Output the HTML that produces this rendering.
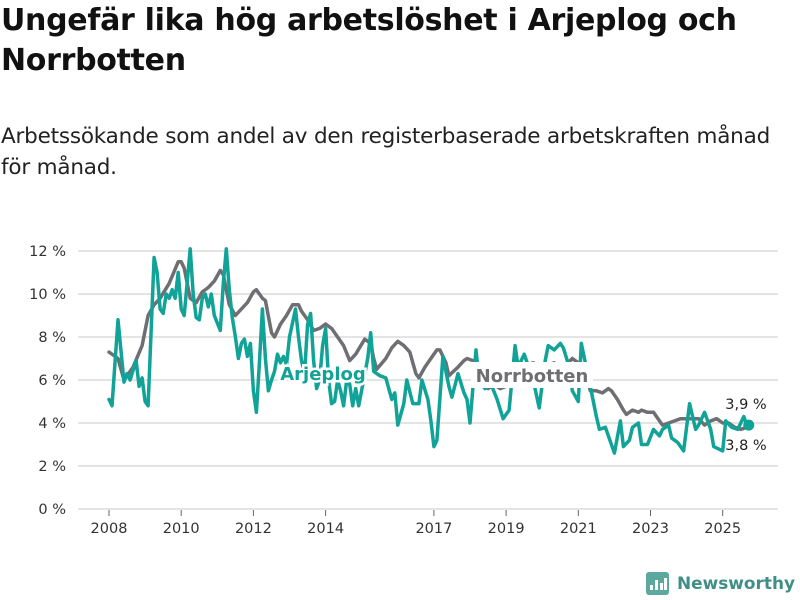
<!DOCTYPE html>
<html><head><meta charset="utf-8">
<style>
body{margin:0;width:800px;height:600px;background:#fff;font-family:"DejaVu Sans",sans-serif;overflow:hidden;position:relative}
h1{position:absolute;left:1px;top:1px;margin:0;font-size:30px;line-height:40px;font-weight:bold;color:#111;white-space:nowrap;letter-spacing:-0.3px}
p.sub{position:absolute;left:1px;top:121px;margin:0;font-size:21.5px;line-height:31px;color:#222;white-space:nowrap;letter-spacing:-0.2px}
svg{position:absolute;left:0;top:0}
</style></head><body>
<h1>Ungefär lika hög arbetslöshet i Arjeplog och<br>Norrbotten</h1>
<p class="sub">Arbetssökande som andel av den registerbaserade arbetskraften månad<br>för månad.</p>
<svg id="chart" width="800" height="600"></svg>
<script>
const yTicks=[0,2,4,6,8,10,12];
const xTickYears=[2008,2010,2012,2014,2017,2019,2021,2023,2025];
const arjMonths=[0,1,3,5,6,7,9,10,11,12,13,15,16,17,18,19,20,21,22,23,24,25,27,28,29,30,31,32,33,34,35,37,38,39,40,41,42,43,44,45,46,47,48,49,50,51,52,53,54,55,56,57,58,59,60,62,63,64,65,66,67,68,69,70,71,72,73,74,75,76,77,78,79,80,81,82,83,86,87,88,90,92,94,95,96,98,99,101,103,104,106,107,108,109,111,113,114,116,118,119,120,122,123,125,127,129,131,133,135,136,138,139,141,143,145,146,148,150,151,153,154,156,157,160,162,163,165,166,168,170,171,173,174,176,177,179,181,183,184,186,187,189,191,193,195,196,198,200,201,204,205,207,209,211,212];
const arjValues=[5.1,4.8,8.8,5.9,6.3,6.0,6.9,5.7,6.1,5.0,4.8,11.7,11.0,9.3,9.1,10.0,9.8,10.2,9.8,11.0,9.3,9.0,12.1,10.0,8.9,8.8,9.8,10.0,9.4,10.0,9.0,8.3,10.5,12.1,10.2,8.9,8.0,7.0,7.7,7.9,7.1,7.7,5.5,4.5,6.8,9.3,7.0,5.5,6.0,6.4,7.2,6.8,7.1,6.7,8.0,9.3,8.0,6.9,6.3,8.6,9.1,6.9,5.6,6.0,7.6,8.4,6.0,4.9,5.0,6.0,5.5,4.8,6.0,5.8,4.8,5.6,4.8,7.0,8.2,6.4,6.2,6.1,5.1,5.4,3.9,4.9,6.0,4.9,4.9,6.0,5.1,4.1,2.9,3.2,7.1,5.7,5.2,6.3,5.4,5.1,4.0,7.4,6.0,5.6,5.8,5.1,4.2,4.6,7.6,6.6,7.2,6.8,6.0,4.7,6.9,7.6,7.4,7.7,7.5,6.6,5.5,5.0,7.7,5.7,4.3,3.7,3.8,3.4,2.6,4.1,2.9,3.2,3.8,4.0,3.0,3.0,3.7,3.4,3.7,3.9,3.3,3.1,2.7,4.9,3.7,3.9,4.5,3.7,2.9,2.7,4.1,3.8,3.7,4.3,3.9];
const norMonths=[0,3,5,8,11,13,15,17,20,23,24,25,27,29,31,33,35,37,38,40,42,44,46,48,49,51,52,54,55,57,59,61,63,64,66,68,70,72,74,76,78,80,82,85,87,88,89,92,94,96,98,100,102,103,105,107,109,110,112,113,116,118,119,121,122,124,126,128,130,132,134,137,139,141,144,146,148,150,152,154,156,158,160,162,164,166,167,169,171,172,174,176,177,179,181,183,184,186,188,190,192,196,198,200,202,204,206,208,210,212];
const norValues=[7.3,7.0,6.0,6.6,7.6,9.0,9.5,9.8,10.5,11.5,11.5,11.2,9.8,9.6,10.1,10.3,10.6,11.1,10.9,9.5,9.0,9.3,9.6,10.1,10.2,9.8,9.7,8.2,8.0,8.6,9.0,9.5,9.5,9.2,8.8,8.3,8.4,8.6,8.4,8.0,7.6,6.9,7.2,7.9,7.7,7.0,6.5,7.0,7.5,7.8,7.6,7.3,6.3,6.1,6.6,7.0,7.4,7.4,6.8,6.2,6.6,6.9,7.0,6.9,6.8,5.8,5.6,5.8,5.6,5.7,6.0,6.3,6.7,6.8,6.6,6.7,6.8,6.6,6.7,7.0,6.8,6.6,5.5,5.5,5.4,5.6,5.5,5.1,4.6,4.4,4.6,4.5,4.6,4.5,4.5,4.1,3.9,4.0,4.1,4.2,4.2,4.2,3.9,4.1,4.2,4.0,4.0,3.8,3.7,3.8];
const lastArjLabel="3,9 %", lastNorLabel="3,8 %";

const NS="http://www.w3.org/2000/svg";
const svg=document.getElementById('chart');
const x0=109, pxPerYear=36.1, y0=509, pxPerPct=21.5;
function xScale(months){return x0+months/12*pxPerYear;}
function xYear(yr){return x0+(yr-2008)*pxPerYear;}
function yScale(v){return y0-v*pxPerPct;}
function mk(tag,attrs,parent){const e=document.createElementNS(NS,tag);for(const k in attrs)e.setAttribute(k,attrs[k]);(parent||svg).appendChild(e);return e;}

yTicks.forEach(t=>{
  const g=mk('line',{x1:78,x2:778,y1:yScale(t),y2:yScale(t),stroke:'#dcdcdc','stroke-width':1.5});
  
  
  const tx=mk('text',{x:66,y:yScale(t)+5,'text-anchor':'end','font-size':14.5,fill:'#333','font-family':'DejaVu Sans, sans-serif'});
  tx.textContent=t+' %';
  
  
});
xTickYears.forEach(yr=>{
  const tk=mk('line',{x1:xYear(yr),x2:xYear(yr),y1:510,y2:516,stroke:'#666','stroke-width':1});
  
  
  const tx=mk('text',{x:xYear(yr),y:533,'text-anchor':'middle','font-size':14.5,fill:'#333','font-family':'DejaVu Sans, sans-serif'});
  tx.textContent=yr;
  
  
});
function path(ms,vs,color,name){
  let d='';ms.forEach((m,i)=>{d+=(i?'L':'M')+xScale(m).toFixed(1)+','+yScale(vs[i]).toFixed(1);});
  const p=mk('path',{d:d,fill:'none',stroke:color,'stroke-width':3.5,'stroke-linejoin':'round','stroke-linecap':'round'});
  
  
}
path(norMonths,norValues,'#6f6e73','norrbotten-line');
path(arjMonths,arjValues,'#11a398','arjeplog-line');

const nb=mk('rect',{x:471,y:362,width:122,height:26,fill:'#fff'});


const nl=mk('text',{x:532,y:382,'text-anchor':'middle','font-size':18,'font-weight':'bold',fill:'#6f6e73','font-family':'DejaVu Sans, sans-serif'});
nl.textContent='Norrbotten';


const al=mk('text',{x:323,y:380,'text-anchor':'middle','font-size':18,'font-weight':'bold',fill:'#11a398',stroke:'#fff','stroke-width':5,'paint-order':'stroke','font-family':'DejaVu Sans, sans-serif'});
al.textContent='Arjeplog';



const lm=arjMonths[arjMonths.length-1], lv=arjValues[arjValues.length-1];
const dot=mk('circle',{cx:xScale(lm)+2,cy:yScale(lv),r:5.5,fill:'#11a398'});


const v1=mk('text',{x:746,y:409,'text-anchor':'middle','font-size':14.5,fill:'#222','font-family':'DejaVu Sans, sans-serif'});
v1.textContent=lastArjLabel;


const v2=mk('text',{x:746,y:450,'text-anchor':'middle','font-size':14.5,fill:'#222','font-family':'DejaVu Sans, sans-serif'});
v2.textContent=lastNorLabel;



const lg=mk('g',{});


mk('rect',{x:646,y:572,width:23,height:23,rx:3,fill:'#5aa89e'},lg);
[[650,585,3,7],[655,580,3,12],[660,583,3,9],[664,578,3,14]].forEach(b=>mk('rect',{x:b[0],y:b[1],width:b[2],height:b[3]-2,fill:'#fff'},lg));
const lt=mk('text',{x:677,y:589,'font-size':16.5,'font-weight':'bold',fill:'#3f8f86','font-family':'DejaVu Sans, sans-serif',textLength:118,lengthAdjust:'spacingAndGlyphs'},lg);
lt.textContent='Newsworthy';
</script>
</body></html>
